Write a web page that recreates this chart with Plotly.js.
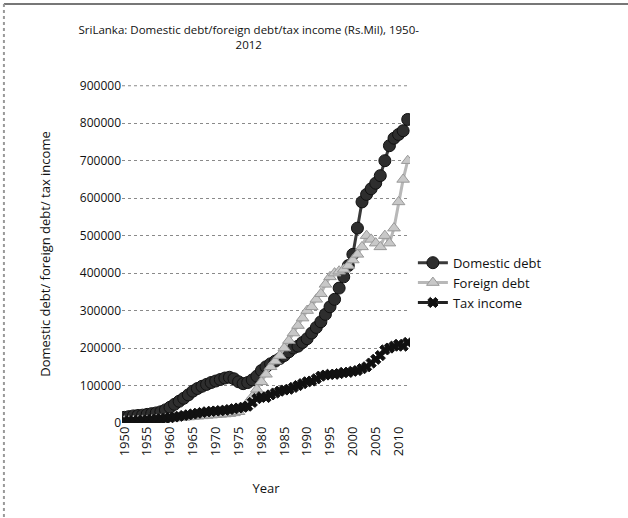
<!DOCTYPE html>
<html>
<head>
<meta charset="utf-8">
<script src="https://cdn.plot.ly/plotly-3.0.1.min.js"></script>
<style>html,body{margin:0;padding:0;background:#fff;}#chart{width:628px;height:518px;}</style>
</head>
<body>
<div id="chart"></div>
<script>
var years = [];
for (var y = 1950; y <= 2012; y++) years.push(y);

var domesticDebt = [
  15000, 17000, 19000, 20000, 21000, 23000, 25000, 27000, 30000, 35000,
  42000, 50000, 58000, 66000, 75000, 85000, 92000, 98000, 103000, 108000,
  112000, 116000, 120000, 122000, 118000, 110000, 105000, 108000, 115000, 125000,
  140000, 150000, 158000, 165000, 172000, 180000, 190000, 200000, 205000, 215000,
  225000, 240000, 255000, 270000, 290000, 310000, 330000, 360000, 390000, 420000,
  450000, 520000, 590000, 610000, 625000, 640000, 660000, 700000, 740000, 760000,
  770000, 780000, 810000
];
var foreignDebt = [
  5000, 5000, 6000, 6000, 7000, 7000, 8000, 9000, 10000, 11000,
  12000, 13000, 14000, 15000, 16000, 17000, 18000, 19000, 20000, 21000,
  22000, 23000, 24000, 25000, 27000, 30000, 40000, 55000, 70000, 90000,
  110000, 130000, 150000, 165000, 180000, 200000, 220000, 240000, 260000, 280000,
  300000, 310000, 330000, 345000, 370000, 390000, 400000, 405000, 410000, 420000,
  435000, 450000, 470000, 500000, 490000, 480000, 470000, 500000, 480000, 520000,
  590000, 650000, 700000
];
var taxIncome = [
  5000, 5000, 6000, 6000, 7000, 8000, 9000, 10000, 11000, 12000,
  14000, 16000, 18000, 20000, 22000, 24000, 26000, 28000, 30000, 31000,
  32000, 33000, 34000, 36000, 38000, 40000, 42000, 45000, 55000, 65000,
  70000, 68000, 75000, 80000, 85000, 88000, 90000, 95000, 100000, 105000,
  110000, 112000, 118000, 125000, 128000, 130000, 130000, 132000, 135000, 135000,
  138000, 140000, 145000, 150000, 160000, 170000, 180000, 195000, 200000, 205000,
  210000, 205000, 215000
];
var seriesNames = ["Domestic debt", "Foreign debt", "Tax income"];
var yTicks = [0, 100000, 200000, 300000, 400000, 500000, 600000, 700000, 800000, 900000];
var xTicks = [1950, 1955, 1960, 1965, 1970, 1975, 1980, 1985, 1990, 1995, 2000, 2005, 2010];

var FONT = "Open Sans, Liberation Sans, sans-serif";

var traces = [
  {
    x: years, y: domesticDebt, name: seriesNames[0], type: "scatter", mode: "lines+markers",
    line: {color: "#3a3a3a", width: 3},
    marker: {symbol: "circle", size: 12, color: "#2e2e2e", line: {color: "#111", width: 1}}
  },
  {
    x: years, y: foreignDebt, name: seriesNames[1], type: "scatter", mode: "lines+markers",
    line: {color: "#b8b8b8", width: 3},
    marker: {symbol: "triangle-up", size: 11, color: "#c8c8c8", line: {color: "#999", width: 1}}
  },
  {
    x: years, y: taxIncome, name: seriesNames[2], type: "scatter", mode: "lines+markers",
    line: {color: "#222", width: 3},
    marker: {symbol: "x", size: 9, color: "#111", line: {color: "#111", width: 1}}
  }
];

var layout = {
  width: 628, height: 518,
  paper_bgcolor: "#fff", plot_bgcolor: "#fff",
  margin: {l: 122, r: 218, t: 85, b: 95},
  font: {family: FONT, color: "#111", size: 12},
  title: {
    text: "SriLanka: Domestic debt/foreign debt/tax income (Rs.Mil), 1950-<br>2012",
    font: {family: FONT, size: 11.5, color: "#111"},
    x: 0.44, xanchor: "center", xref: "paper", y: 0.935, yanchor: "top"
  },
  xaxis: {
    type: "linear", range: [1949.5, 2012.5],
    tickmode: "array", tickvals: xTicks, ticktext: xTicks.map(String),
    tickangle: -90, showgrid: false, zeroline: false,
    showline: false, ticks: "",
    tickfont: {family: FONT, size: 13, color: "#111"},
    title: {text: "Year", font: {family: FONT, size: 13, color: "#111"}, standoff: 28}
  },
  yaxis: {
    range: [0, 902000], tickmode: "array", tickvals: yTicks,
    ticktext: yTicks.map(String),
    showgrid: true, gridcolor: "#8a8a8a", griddash: "dot", gridwidth: 1,
    zeroline: false, showline: false, ticks: "",
    tickfont: {family: FONT, size: 12, color: "#111"},
    title: {text: "Domestic debt/ foreign debt/ tax income", font: {family: FONT, size: 13, color: "#111"}, standoff: 26}
  },
  legend: {
    x: 1.01, xanchor: "left", y: 0.415, yanchor: "middle",
    font: {family: FONT, size: 13, color: "#111"},
    bgcolor: "rgba(0,0,0,0)", tracegroupgap: 0
  },
  showlegend: true,
  shapes: [
    {type: "line", xref: "paper", yref: "y", x0: 0, x1: 1, y0: yTicks[yTicks.length - 1], y1: yTicks[yTicks.length - 1], line: {color: "#8a8a8a", width: 1, dash: "dot"}, layer: "below"},
    {type: "line", xref: "paper", yref: "paper", x0: -0.41, x1: 1.76, y0: 1.24, y1: 1.24, line: {color: "#777", width: 2}},
    {type: "line", xref: "paper", yref: "paper", x0: -0.41, x1: -0.41, y0: 1.24, y1: -0.28, line: {color: "#999", width: 2, dash: "dot"}}
  ]
};

Plotly.newPlot("chart", traces, layout, {displayModeBar: false, staticPlot: true});
</script>
</body>
</html>
